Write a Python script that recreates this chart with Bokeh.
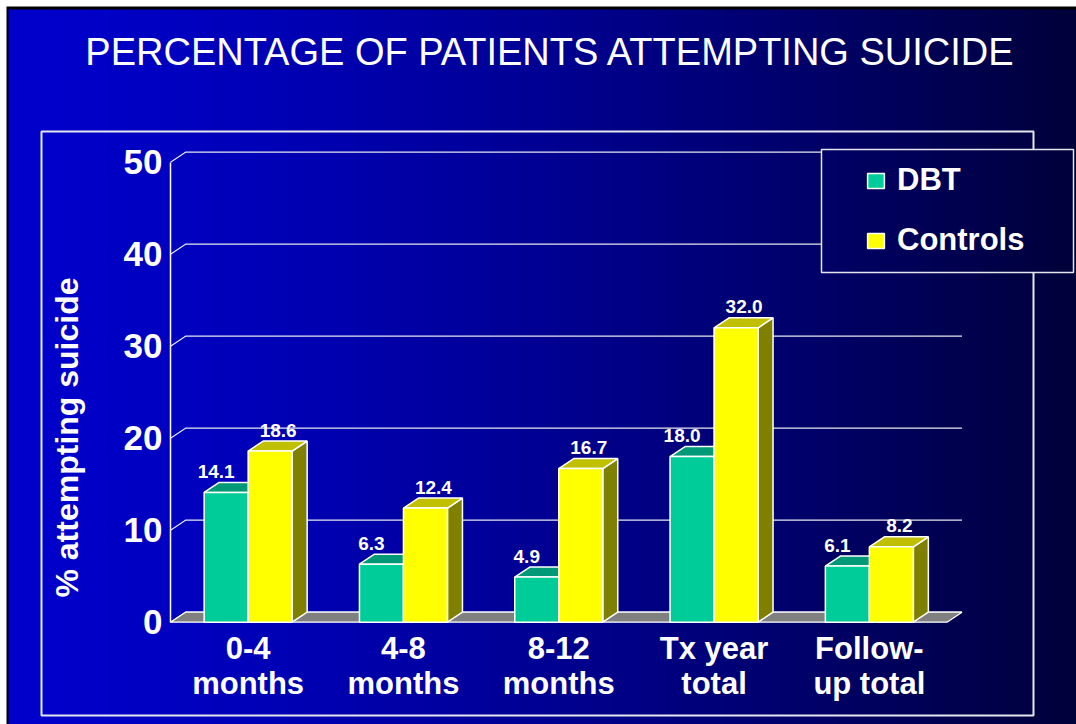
import numpy as np
from bokeh.plotting import figure
from bokeh.models import (Range1d, LinearAxis, FixedTicker, ColumnDataSource,
                          Legend, LegendItem, Label)
from bokeh.embed import file_html
from bokeh.resources import INLINE
from bokeh.core.properties import value

# ---------------- data ----------------
CATEGORIES = ["0-4\nmonths", "4-8\nmonths", "8-12\nmonths", "Tx year\ntotal", "Follow-\nup total"]
DBT = [14.1, 6.3, 4.9, 18.0, 6.1]
CONTROLS = [18.6, 12.4, 16.7, 32.0, 8.2]
SERIES = ["DBT", "Controls"]
Y_TICKS = [0, 10, 20, 30, 40, 50]
TITLE = "PERCENTAGE OF PATIENTS ATTEMPTING SUICIDE"
Y_TITLE = "% attempting suicide"

# ---------------- pixel <-> data mapping (frame = whole canvas) ----------------
W, H = 1076, 724
X0, XU = 247.65, 155.3    # px of first category centre, px per category
Y0, YU = 621.7, 9.2       # px of value 0 (front), px per percent


def dx(px):
    return (px - X0) / XU


def dy(py):
    return (Y0 - py) / YU


DEPTH_X = 15 / XU
DEPTH_Y = 10 / YU
BW = 44 / XU
N = len(CATEGORIES)
FONT = "Liberation Sans"

p = figure(width=W, height=H, x_range=Range1d(dx(0), dx(W)), y_range=Range1d(dy(H), dy(0)),
           output_backend="svg", toolbar_location=None, x_axis_type=None, y_axis_type=None,
           min_border=0)
p.outline_line_color = None
p.background_fill_color = "white"
p.border_fill_color = "white"


def grad_img(px_left, px_right):
    cols = np.arange(px_left, px_right) + 0.5
    t = np.clip((cols - 8) / (W - 8), 0, 1)
    b = 204 - 146 * t ** 1.35
    img = np.empty((1, len(cols)), dtype=np.uint32)
    v = img.view(dtype=np.uint8).reshape((1, len(cols), 4))
    v[..., 0] = 0
    v[..., 1] = 0
    v[..., 2] = b.astype(np.uint8)
    v[..., 3] = 255
    return img


# slide frame: black edge + gradient background
p.quad(left=[dx(6)], right=[dx(W)], top=[dy(6)], bottom=[dy(H)], fill_color="black", line_color=None)
p.image_rgba(image=[grad_img(8, W)], x=dx(8), y=dy(H), dw=dx(W) - dx(8), dh=dy(9) - dy(H))

# chart-area rectangle
p.quad(left=[dx(41)], right=[dx(1033)], top=[dy(131)], bottom=[dy(715)],
       fill_alpha=0, line_color="#E6E6EE", line_width=2)

# back-wall gridlines with 3D diagonal connectors
x_front0 = -0.5
x_front1 = N - 0.5
grid_xs = [[x_front0, x_front0 + DEPTH_X, x_front1 + DEPTH_X] for _ in Y_TICKS]
grid_ys = [[t, t + DEPTH_Y, t + DEPTH_Y] for t in Y_TICKS]
p.multi_line(xs=grid_xs, ys=grid_ys, line_color="#E8E8F0", line_width=1.2)

# floor
p.patch(x=[x_front0, x_front1, x_front1 + DEPTH_X, x_front0 + DEPTH_X],
        y=[0, 0, DEPTH_Y, DEPTH_Y], fill_color="#808080", line_color="white", line_width=1.2)

# legend box (opaque with the background gradient)
p.image_rgba(image=[grad_img(821, 1073)], x=dx(821), y=dy(272), dw=dx(1073) - dx(821), dh=dy(149) - dy(272))
p.quad(left=[dx(821)], right=[dx(1073)], top=[dy(149)], bottom=[dy(272)],
       fill_alpha=0, line_color="#E6E6EE", line_width=1.5)

# ---------------- 3D bars ----------------
styles = {
    "DBT": dict(front="#00CC99", top="#009977", side="#006650", shift=-1, xoff=-10),
    "Controls": dict(front="#FFFF00", top="#C0C000", side="#808000", shift=0, xoff=8),
}
fronts = {}
for name, vals in zip(SERIES, [DBT, CONTROLS]):
    st = styles[name]
    lefts = [i + st["shift"] * BW for i in range(N)]
    rights = [l + BW for l in lefts]
    side_xs = [[r, r + DEPTH_X, r + DEPTH_X, r] for r in rights]
    side_ys = [[0, DEPTH_Y, v + DEPTH_Y, v] for v in vals]
    top_xs = [[l, r, r + DEPTH_X, l + DEPTH_X] for l, r in zip(lefts, rights)]
    top_ys = [[v, v, v + DEPTH_Y, v + DEPTH_Y] for v in vals]
    p.patches(xs=side_xs, ys=side_ys, fill_color=st["side"], line_color="white", line_width=1.5)
    p.patches(xs=top_xs, ys=top_ys, fill_color=st["top"], line_color="white", line_width=1.5)
    src = ColumnDataSource(dict(left=lefts, right=rights, top=vals, bottom=[0] * N,
                                cx=[(l + r) / 2 for l, r in zip(lefts, rights)],
                                lab=[f"{v:.1f}" for v in vals]))
    fronts[name] = p.quad(left="left", right="right", top="top", bottom="bottom", source=src,
                          fill_color=st["front"], line_color="white", line_width=1.5)
    p.text(x="cx", y="top", text="lab", source=src, x_offset=st["xoff"], y_offset=-21,
           text_align="center", text_baseline="alphabetic", text_color="white",
           text_font=value(FONT), text_font_style="bold", text_font_size="19px")

# ---------------- axes ----------------
yaxis = LinearAxis(fixed_location=x_front0, bounds=(0, 50), ticker=FixedTicker(ticks=Y_TICKS))
yaxis.axis_line_color = "white"
yaxis.axis_line_width = 1.5
yaxis.major_tick_line_color = None
yaxis.minor_tick_line_color = None
yaxis.major_tick_out = 0
yaxis.major_tick_in = 0
yaxis.major_label_standoff = 8
yaxis.major_label_text_color = "white"
yaxis.major_label_text_font = FONT
yaxis.major_label_text_font_style = "bold"
yaxis.major_label_text_font_size = "35px"
p.add_layout(yaxis, "left")

ytitle_axis = LinearAxis(fixed_location=x_front0, bounds=(0, 2 * dy(437)), ticker=FixedTicker(ticks=[]))
ytitle_axis.axis_line_color = None
ytitle_axis.major_tick_line_color = None
ytitle_axis.minor_tick_line_color = None
ytitle_axis.major_tick_out = 0
ytitle_axis.major_tick_in = 0
ytitle_axis.axis_label = Y_TITLE
ytitle_axis.axis_label_standoff = 86
ytitle_axis.axis_label_text_color = "white"
ytitle_axis.axis_label_text_font = FONT
ytitle_axis.axis_label_text_font_style = "bold"
ytitle_axis.axis_label_text_font_size = "32px"
p.add_layout(ytitle_axis, "left")

xaxis = LinearAxis(fixed_location=0, ticker=FixedTicker(ticks=list(range(N))),
                   major_label_overrides={i: c for i, c in enumerate(CATEGORIES)})
xaxis.axis_line_color = None
xaxis.major_tick_line_color = None
xaxis.minor_tick_line_color = None
xaxis.major_tick_out = 0
xaxis.major_tick_in = 0
xaxis.major_label_standoff = 9
xaxis.major_label_text_color = "white"
xaxis.major_label_text_font = FONT
xaxis.major_label_text_font_style = "bold"
xaxis.major_label_text_font_size = "31px"
xaxis.major_label_text_line_height = 0.98
p.add_layout(xaxis, "below")

# ---------------- title ----------------
p.add_layout(Label(x=dx(550), y=dy(51), text=TITLE, text_align="center", text_baseline="middle",
                   text_color="white", text_font=FONT, text_font_size="38px"))

# ---------------- legend ----------------
legend = Legend(items=[LegendItem(label=s, renderers=[fronts[s]]) for s in SERIES],
                location=(865, H - 258), orientation="vertical")
legend.border_line_color = None
legend.background_fill_alpha = 0
legend.padding = 0
legend.margin = 0
legend.spacing = 24
legend.glyph_width = 21
legend.glyph_height = 19
legend.label_height = 19
legend.label_standoff = 11
legend.label_text_color = "white"
legend.label_text_font = FONT
legend.label_text_font_style = "bold"
legend.label_text_font_size = "31px"
p.add_layout(legend, "center")

open("out.html", "w").write(file_html(p, INLINE))
